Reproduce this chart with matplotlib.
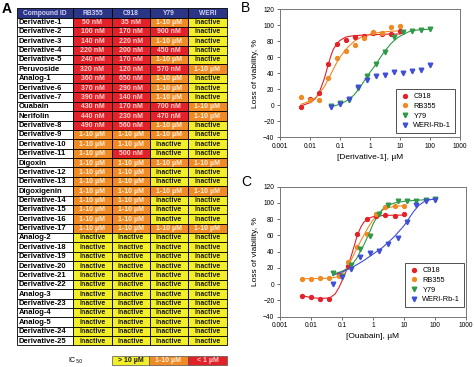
import matplotlib
matplotlib.use('Agg')
import matplotlib.pyplot as plt
from matplotlib.patches import Rectangle

plt.rcParams['font.family'] = ['Liberation Sans', 'DejaVu Sans']

# ---- table data (panel A) ----
compounds = ['Derivative-1', 'Derivative-2', 'Derivative-3', 'Derivative-4', 'Derivative-5',
             'Peruvoside', 'Analog-1', 'Derivative-6', 'Derivative-7', 'Ouabain', 'Nerifolin',
             'Derivative-8', 'Derivative-9', 'Derivative-10', 'Derivative-11', 'Digoxin',
             'Derivative-12', 'Derivative-13', 'Digoxigenin', 'Derivative-14', 'Derivative-15',
             'Derivative-16', 'Derivative-17', 'Analog-2', 'Derivative-18', 'Derivative-19',
             'Derivative-20', 'Derivative-21', 'Derivative-22', 'Analog-3', 'Derivative-23',
             'Analog-4', 'Analog-5', 'Derivative-24', 'Derivative-25']
headers = ['Compound ID', 'RB355', 'C918', 'Y79', 'WERI']
M = '1-10 µM'
I = 'inactive'
rb355 = ['50 nM', '100 nM', '140 nM', '220 nM', '240 nM', '320 nM', '360 nM', '370 nM',
         '390 nM', '430 nM', '440 nM', '490 nM'] + [M] * 11 + [I] * 12
c918 = ['35 nM', '170 nM', '220 nM', '200 nM', '170 nM', '120 nM', '650 nM', '290 nM',
        '140 nM', '170 nM', '230 nM', '560 nM', M, M, '500 nM', M, M, M, M, M, M, M, M] + [I] * 12
y79 = [M, '900 nM', M, '450 nM', M, '570 nM', M, M, M, '700 nM', '470 nM', M, M, I, I, M,
       I, I, M, I, I, I, M] + [I] * 12
weri = [I, I, I, I, I, M, I, I, I, M, M, I, I, I, I, M, I, I, M, I, I, I, M] + [I] * 12
legend_labels = ['> 10 µM', '1-10 µM', '< 1 µM']

# ---- panel B: Derivative-1 ----
b_x_lo = [0.005, 0.01, 0.02, 0.039, 0.078, 0.156, 0.3125, 0.625, 1.25, 2.5, 5, 10]
b_x_hi = [0.05, 0.1, 0.2, 0.39, 0.78, 1.56, 3.125, 6.25, 12.5, 25, 50, 100]
b_c918 = [-2, 8, 15, 51, 76, 81, 85, 86, 90, 89, 89, 93]
b_rb355 = [10, 6, 6, 34, 59, 68, 75, 84, 92, 90, 98, 99]
b_y79 = [-1, 2, 6, 21, 37, 51, 67, 85, 92, 93, 94, 95]
b_weri = [-2, 1.5, 7, 23, 31, 37, 38, 41, 40, 43, 44.5, 50]
bf_x_lo = [0.005, 0.01, 0.015, 0.02, 0.03, 0.04, 0.05, 0.06, 0.08, 0.1, 0.15, 0.2, 0.3, 0.5, 1, 2, 5, 10]
bf_c918 = [-1, 3, 8, 15, 33, 50, 62, 70, 77, 81, 85, 86, 87, 87.5, 88, 88.5, 89, 89]
bf_rb355 = [1, 5, 9, 14, 23, 32, 39, 45, 54, 60, 69, 74, 80, 85, 89, 91, 92.5, 93]
bf_x_y79 = [0.05, 0.1, 0.2, 0.3, 0.5, 0.8, 1, 1.5, 2, 3, 5, 8, 12, 20, 30, 50, 100]
bf_y79 = [-2, 1, 7, 13, 24, 36, 41, 50, 57, 67, 77, 84, 88, 92, 93.5, 94.5, 95]

# ---- panel C: Ouabain ----
c_c918 = [-15, -16, -18, -18, 11, 22, 62, 80, 84, 85, 84, 86]
c_rb355 = [6, 6, 8, 8, 10, 27, 46, 62, 86, 95, 96, 96]
c_y79 = [14, 10, 24, 43, 59, 86, 97, 102, 102, 103, 104, 105]
c_weri = [0, 9, 19, 33, 39, 41, 49, 57, 77, 97, 103, 104]
cf_x_c918 = [0.005, 0.01, 0.02, 0.04, 0.06, 0.08, 0.1, 0.15, 0.2, 0.3, 0.4, 0.5, 0.7, 1, 2, 5, 10]
cf_c918 = [-14, -16.5, -17.5, -17, -12, -4, 4, 20, 35, 58, 70, 76, 81, 83, 84.5, 85, 85]
cf_x_rb355 = [0.005, 0.01, 0.02, 0.04, 0.06, 0.08, 0.1, 0.15, 0.2, 0.3, 0.5, 0.7, 1, 1.5, 2, 3, 5, 10]
cf_rb355 = [6.5, 7, 7, 7.5, 8.5, 10, 13, 21, 30, 44, 60, 70, 79, 87, 91, 94, 96, 96.5]
cf_x_y79 = [0.05, 0.1, 0.15, 0.2, 0.3, 0.5, 0.7, 1, 1.5, 2, 3, 5, 10, 20, 50, 100]
cf_y79 = [12, 16, 19, 23, 32, 48, 60, 74, 86, 92, 97, 100, 102, 103, 104, 104.5]
cf_x_weri = [0.05, 0.1, 0.2, 0.3, 0.5, 1, 2, 3, 5, 10, 20, 30, 50, 100]
cf_weri = [11, 15, 20, 24, 29, 37, 45, 51, 59, 72, 89, 97, 103, 105]

RED = '#e32128'
ORANGE = '#f08a24'
YELLOW = '#f3ee2a'
NAVY = '#2b3585'

W, H = 474, 367
fig = plt.figure(figsize=(W / 100, H / 100), dpi=100)

# table drawn in pixel coordinates
tab = fig.add_axes([0, 0, 1, 1])
tab.set_xlim(0, W)
tab.set_ylim(H, 0)
tab.axis('off')

col_edges = [17, 73, 112, 150, 188, 227]
head_top, row_top, row_h = 8, 17.5, 9.37

for j, h in enumerate(headers):
    x0, x1 = col_edges[j], col_edges[j + 1]
    tab.add_patch(Rectangle((x0, head_top), x1 - x0, row_top - head_top,
                            facecolor=NAVY, edgecolor='black', lw=0.6))
    tab.text((x0 + x1) / 2, (head_top + row_top) / 2 + 0.3, h, color='#d0d0f5',
             fontsize=4.8, fontweight='bold', ha='center', va='center')


def cell_color(v):
    if v == I:
        return YELLOW, '#1a1a1a'
    if v == M:
        return ORANGE, '#fff0dc'
    return RED, '#ffd0d0'


for i, name in enumerate(compounds):
    y0 = row_top + i * row_h
    tab.add_patch(Rectangle((col_edges[0], y0), col_edges[1] - col_edges[0], row_h,
                            facecolor='white', edgecolor='black', lw=0.6))
    tab.text(col_edges[0] + 1.5, y0 + row_h / 2 + 0.3, name, fontsize=5.5,
             fontweight='bold', ha='left', va='center', color='black')
    for j, col in enumerate([rb355, c918, y79, weri]):
        x0, x1 = col_edges[j + 1], col_edges[j + 2]
        fc, tc = cell_color(col[i])
        tab.add_patch(Rectangle((x0, y0), x1 - x0, row_h, facecolor=fc,
                                edgecolor='black', lw=0.6))
        tab.text((x0 + x1) / 2, y0 + row_h / 2 + 0.3, col[i], fontsize=5,
                 fontweight='bold', ha='center', va='center', color=tc)

# IC50 legend
tab.text(76, 361, 'IC$_{50}$', fontsize=5, ha='center', va='center')
leg_edges = [112, 149, 188, 227]
for k, (lab, fc, tc) in enumerate(zip(legend_labels, [YELLOW, ORANGE, RED],
                                      ['#1a1a1a', '#fff0dc', '#ffd0d0'])):
    x0, x1 = leg_edges[k], leg_edges[k + 1]
    tab.add_patch(Rectangle((x0, 356), x1 - x0, 9, facecolor=fc, edgecolor='#555555', lw=0.5))
    tab.text((x0 + x1) / 2, 360.8, lab, fontsize=5, fontweight='bold',
             ha='center', va='center', color=tc)

tab.text(2, 9, 'A', fontsize=10, fontweight='bold', ha='left', va='center')
tab.text(241, 8, 'B', fontsize=10, ha='left', va='center')
tab.text(241, 182, 'C', fontsize=10, ha='left', va='center')


def style_axes(ax, xlabel):
    ax.set_xscale('log')
    ax.set_xlim(0.001, 1000)
    ax.set_ylim(-40, 120)
    ax.set_yticks(range(-40, 121, 20))
    ax.set_xticks([0.001, 0.01, 0.1, 1, 10, 100, 1000])
    ax.set_xticklabels(['0.001', '0.01', '0.1', '1', '10', '100', '1000'])
    ax.minorticks_off()
    ax.tick_params(labelsize=4.8, length=2, width=0.6, color='#555555', pad=2)
    for s in ax.spines.values():
        s.set_color('#777777')
        s.set_linewidth(0.7)
    ax.set_xlabel(xlabel, fontsize=6, labelpad=3)
    ax.set_ylabel('Loss of viability, %', fontsize=6, labelpad=3)


def legend(ax, anchor):
    lg = ax.legend(loc='lower right', bbox_to_anchor=anchor, borderaxespad=0,
                   fontsize=5.3, frameon=True, fancybox=False, handlelength=1.2,
                   handletextpad=0.6, borderpad=0.5, labelspacing=0.35)
    lg.get_frame().set_edgecolor('black')
    lg.get_frame().set_linewidth(0.6)


ms = 2.8
# panel B
axb = fig.add_axes([280 / W, 1 - 137 / H, 180 / W, 127.7 / H])
axb.plot(bf_x_lo, bf_c918, color=RED, lw=0.8)
axb.plot(bf_x_lo, bf_rb355, color=ORANGE, lw=0.8)
axb.plot(bf_x_y79, bf_y79, color='#2e9a48', lw=0.8)
axb.plot(b_x_lo, b_c918, 'o', color=RED, ms=ms, label='C918')
axb.plot(b_x_lo, b_rb355, 'o', color=ORANGE, ms=ms, label='RB355')
axb.plot(b_x_hi, b_y79, 'v', color='#2e9a48', ms=ms + 0.5, label='Y79')
axb.plot(b_x_hi, b_weri, 'v', color='#3f4fd6', ms=ms + 0.5, label='WERI-Rb-1')
style_axes(axb, '[Derivative-1], µM')
legend(axb, (0.972, 0.031))

# panel C
axc = fig.add_axes([280 / W, 1 - 316.7 / H, 186 / W, 130 / H])
axc.plot(cf_x_c918, cf_c918, color=RED, lw=0.8)
axc.plot(cf_x_rb355, cf_rb355, color=ORANGE, lw=0.8)
axc.plot(cf_x_y79, cf_y79, color='#2e9a48', lw=0.8)
axc.plot(cf_x_weri, cf_weri, color='#3f4fd6', lw=0.8)
axc.plot(b_x_lo, c_c918, 'o', color=RED, ms=ms, label='C918')
axc.plot(b_x_lo, c_rb355, 'o', color=ORANGE, ms=ms, label='RB355')
axc.plot(b_x_hi, c_y79, 'v', color='#2e9a48', ms=ms + 0.5, label='Y79')
axc.plot(b_x_hi, c_weri, 'v', color='#3f4fd6', ms=ms + 0.5, label='WERI-Rb-1')
style_axes(axc, '[Ouabain], µM')
legend(axc, (0.989, 0.075))

fig.savefig('out.png', dpi=100)
